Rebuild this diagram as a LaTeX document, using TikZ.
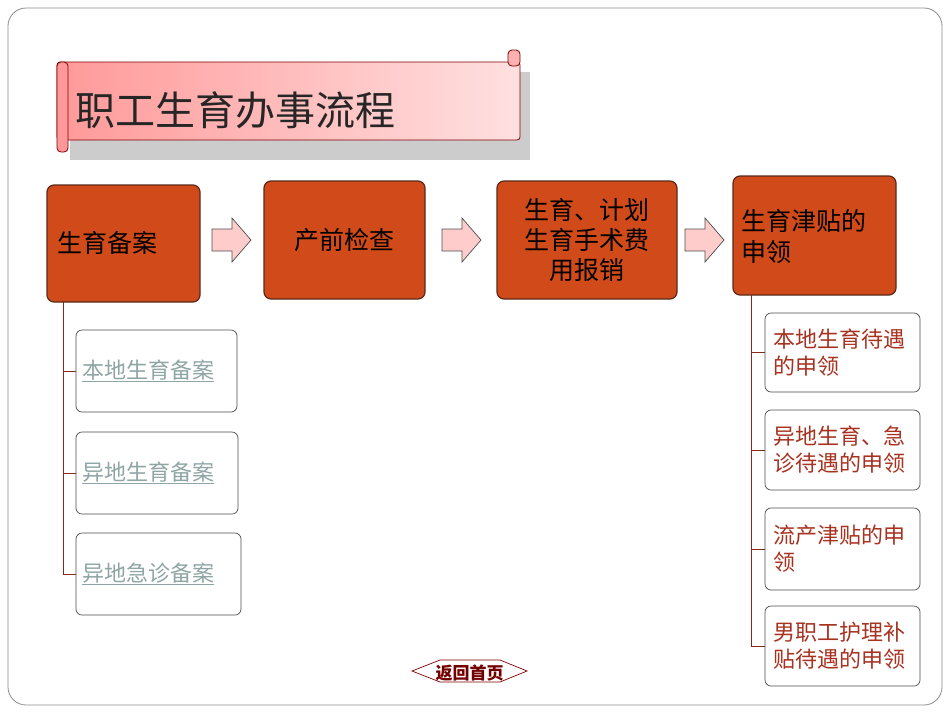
\documentclass[tikz,border=0pt]{standalone}
\usepackage{fontspec}
\setmainfont{Noto Sans CJK SC}
\definecolor{boxor}{HTML}{D04A1A}
\definecolor{boxedge}{HTML}{5A2A1A}
\definecolor{linkc}{HTML}{8FA5A5}
\definecolor{redt}{HTML}{A83220}
\tikzset{
 mainbox/.style={draw=boxedge,line width=1.2pt,fill=boxor,rounded corners=7pt},
 subbox/.style={draw=black!70,line width=0.7pt,fill=white,rounded corners=6pt},
 flowarrow/.style={draw=black!70,fill=red!20,line width=0.7pt,line join=miter},
 tree/.style={draw=redt!80!black,line width=0.8pt}
}
\begin{document}
\begin{tikzpicture}[x=1pt,y=-1pt]
\useasboundingbox (0,0) rectangle (950,713);
\draw[black!45,line width=0.8pt,rounded corners=18pt] (8,8) rectangle (942,705);
% banner
\fill[black!20] (70,72) rectangle (530,160);
\shade[left color=red!40,right color=red!12,draw=red!50!black,line width=0.8pt,rounded corners=3pt] (57,62) rectangle (520,140);
\draw[draw=red!50!black,fill=red!40,line width=0.8pt,rounded corners=4pt] (57,62) rectangle (68,152);
\draw[draw=red!50!black,fill=red!30,line width=0.8pt,rounded corners=4pt] (508,50) rectangle (520,66);
\node[anchor=west,font=\fontsize{40}{44}\selectfont,text=black!85] (title) at (72,110) {职工生育办事流程};
% main boxes
\draw[mainbox] (47,185) rectangle (200,302);
\node[anchor=west,font=\fontsize{25}{29}\selectfont] (a) at (54,243) {生育备案};
\draw[mainbox] (264,181) rectangle (425,299);
\node[font=\fontsize{25}{29}\selectfont] (b) at (344.5,240) {产前检查};
\draw[mainbox] (497,181) rectangle (677,299);
\node[font=\fontsize{25}{30}\selectfont,align=center] (c) at (587,240) {生育、计划\\生育手术费\\用报销};
\draw[mainbox] (733,176) rectangle (896,295);
\node[font=\fontsize{25}{31}\selectfont,align=left,anchor=west] (d) at (738,236) {生育津贴的\\申领};
\foreach \x in {212,442,685}{
  \draw[flowarrow] (\x,229) -- (\x+20,229) -- (\x+20,218) -- (\x+39,240) -- (\x+20,262) -- (\x+20,251) -- (\x,251) -- cycle;
}
% left children
\draw[tree] (63,302) -- (63,574);
\foreach \y/\yt/\yb/\xr/\t/\n in {371/330/412/237/本地生育备案/l1,473/432/514/238/异地生育备案/l2,574/533/615/241/异地急诊备案/l3}{
  \draw[tree] (63,\y) -- (76,\y);
  \draw[subbox] (76,\yt) rectangle (\xr,\yb);
  \node[anchor=west,text=linkc,font=\fontsize{22}{26}\selectfont,inner sep=2pt] (\n) at (80,\y) {\underline{\t}};
}
% right children
\draw[tree] (751,295) -- (751,646);
\foreach \yt/\yb/\t/\n in {313/392/{本地生育待遇\\的申领}/r1,410/490/{异地生育、急\\诊待遇的申领}/r2,508/590/{流产津贴的申\\领}/r3,606/686/{男职工护理补\\贴待遇的申领}/r4}{
  \draw[tree] (751,{(\yt+\yb)/2}) -- (765,{(\yt+\yb)/2});
  \draw[subbox] (765,\yt) rectangle (920,\yb);
  \node[anchor=west,align=left,text=redt,font=\fontsize{22}{27}\selectfont,inner sep=2pt] (\n) at (771,{(\yt+\yb)/2}) {\t};
}
% button
\draw[draw=red!50!black,fill=white,line width=0.7pt] (412,671) -- (440,660) -- (500,660) -- (527,671) -- (500,682) -- (440,682) -- cycle;
\node[text=red!45!black,font=\fontsize{17}{19}\selectfont\bfseries] (home) at (469.5,673) {返回首页};
\end{tikzpicture}
\end{document}
